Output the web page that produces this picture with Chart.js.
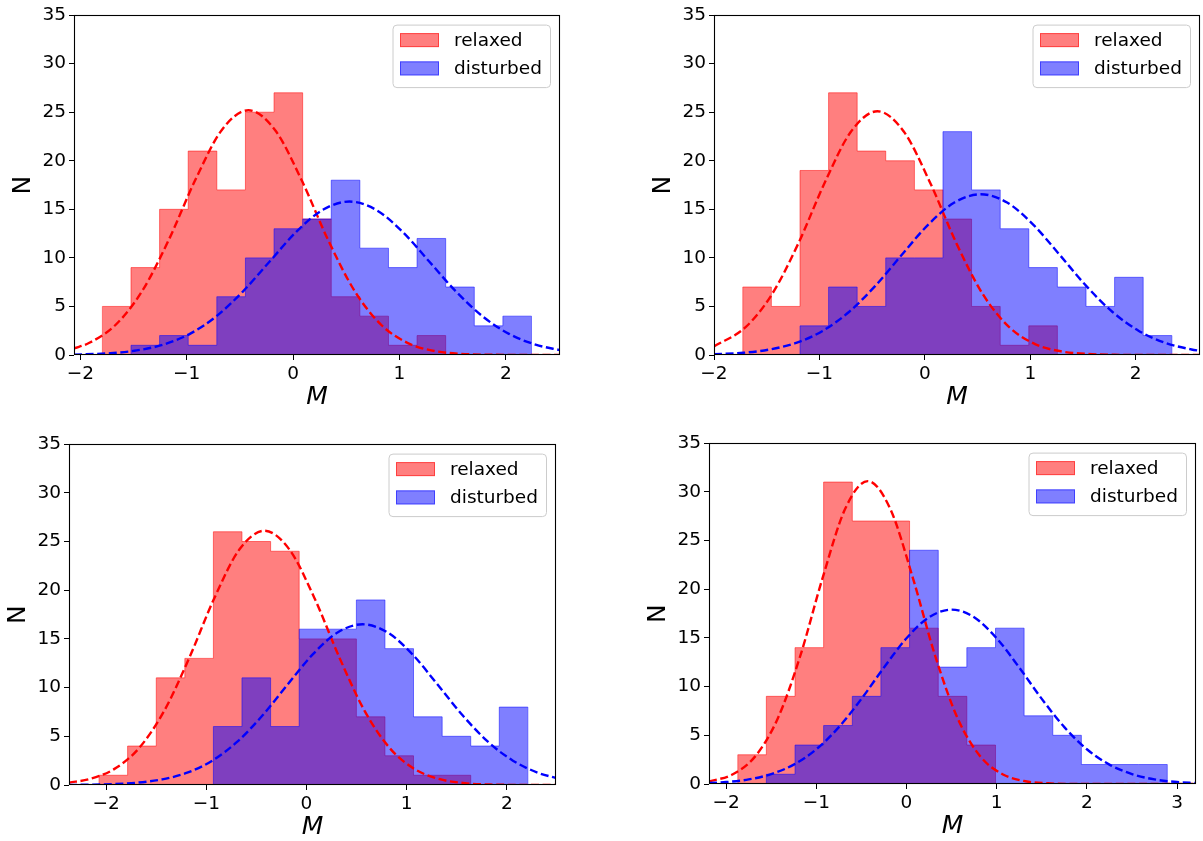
<!DOCTYPE html>
<html>
<head>
<meta charset="utf-8">
<script src="https://cdn.jsdelivr.net/npm/chart.js@4.4.1/dist/chart.umd.min.js"></script>
<style>
  body { margin: 0; background: #fff; width: 1203px; height: 841px; position: relative; overflow: hidden; }
  canvas { position: absolute; }
</style>
</head>
<body>
<canvas id="c1"></canvas>
<canvas id="c2"></canvas>
<canvas id="c3"></canvas>
<canvas id="c4"></canvas>
<script>
// legend names and shared axis ticks
const seriesNames = ['relaxed', 'disturbed'];
const yTicks = [0, 5, 10, 15, 20, 25, 30, 35];

// top-left panel
const p1XRange = [-2.06, 2.51];
const p1XTicks = [-2, -1, 0, 1, 2];
const p1Edges = [-1.793, -1.524, -1.255, -0.986, -0.717, -0.448, -0.179, 0.090, 0.359, 0.628, 0.897, 1.166, 1.435, 1.704, 1.973, 2.242];
const p1Relaxed = [5, 9, 15, 21, 17, 25, 27, 14, 6, 4, 1, 2, 0, 0, 0];
const p1Disturbed = [0, 1, 2, 1, 6, 10, 13, 14, 18, 11, 9, 12, 7, 3, 4];
const p1RelaxedFitX = [-2.06, -1.92, -1.67, -1.42, -1.17, -0.92, -0.67, -0.42, -0.17, 0.08, 0.33, 0.58, 0.83, 1.08, 1.33, 1.58, 1.83, 2.08, 2.51];
const p1RelaxedFitY = [0.68, 1.23, 3.09, 6.57, 11.83, 18.01, 23.17, 25.2, 23.17, 18.01, 11.83, 6.57, 3.09, 1.23, 0.41, 0.12, 0.03, 0.01, 0];
const p1DisturbedFitX = [-2.06, -1.72, -1.47, -1.22, -0.97, -0.72, -0.47, -0.22, 0.03, 0.28, 0.53, 0.78, 1.03, 1.28, 1.53, 1.78, 2.03, 2.28, 2.51];
const p1DisturbedFitY = [0.04, 0.18, 0.47, 1.07, 2.18, 4.00, 6.56, 9.63, 12.68, 14.95, 15.8, 14.95, 12.68, 9.63, 6.56, 4.00, 2.18, 1.07, 0.50];

// top-right panel
const p2XRange = [-2.0, 2.61];
const p2XTicks = [-2, -1, 0, 1, 2];
const p2Edges = [-1.727, -1.456, -1.184, -0.913, -0.642, -0.371, -0.099, 0.172, 0.443, 0.715, 0.986, 1.257, 1.529, 1.800, 2.071, 2.343];
const p2Relaxed = [7, 5, 19, 27, 21, 20, 17, 14, 5, 1, 3, 0, 0, 0, 0];
const p2Disturbed = [0, 0, 3, 7, 5, 10, 10, 23, 17, 13, 9, 7, 5, 8, 2];
const p2RelaxedFitX = [-2.0, -1.70, -1.45, -1.20, -0.95, -0.70, -0.45, -0.20, 0.05, 0.30, 0.55, 0.80, 1.05, 1.30, 1.55, 1.80, 2.05, 2.61];
const p2RelaxedFitY = [0.89, 2.87, 6.26, 11.49, 17.74, 23.01, 25.1, 23.01, 17.74, 11.49, 6.26, 2.87, 1.10, 0.36, 0.10, 0.02, 0, 0];
const p2DisturbedFitX = [-2.0, -1.72, -1.47, -1.22, -0.97, -0.72, -0.47, -0.22, 0.03, 0.28, 0.53, 0.78, 1.03, 1.28, 1.53, 1.78, 2.03, 2.28, 2.53, 2.61];
const p2DisturbedFitY = [0.07, 0.23, 0.57, 1.25, 2.48, 4.43, 7.12, 10.30, 13.40, 15.70, 16.55, 15.70, 13.40, 10.30, 7.12, 4.43, 2.48, 1.25, 0.57, 0.43];

// bottom-left panel
const p3XRange = [-2.37, 2.49];
const p3XTicks = [-2, -1, 0, 1, 2];
const p3Edges = [-2.070, -1.785, -1.499, -1.214, -0.929, -0.644, -0.358, -0.073, 0.212, 0.498, 0.783, 1.068, 1.354, 1.639, 1.924, 2.209];
const p3Relaxed = [1, 4, 11, 13, 26, 25, 24, 15, 15, 7, 3, 1, 1, 0, 0];
const p3Disturbed = [0, 0, 0, 0, 6, 11, 6, 16, 16, 19, 14, 7, 5, 4, 8];
const p3RelaxedFitX = [-2.37, -2.17, -1.92, -1.67, -1.42, -1.17, -0.92, -0.67, -0.42, -0.17, 0.08, 0.33, 0.58, 0.83, 1.08, 1.33, 1.58, 1.83, 2.08, 2.49];
const p3RelaxedFitY = [0.24, 0.60, 1.63, 3.80, 7.61, 13.05, 19.18, 24.17, 26.1, 24.17, 19.18, 13.05, 7.61, 3.80, 1.63, 0.60, 0.19, 0.05, 0.01, 0];
const p3DisturbedFitX = [-2.37, -2.19, -1.94, -1.69, -1.44, -1.19, -0.94, -0.69, -0.44, -0.19, 0.06, 0.31, 0.56, 0.81, 1.06, 1.31, 1.56, 1.81, 2.06, 2.31, 2.49];
const p3DisturbedFitY = [0.01, 0.03, 0.09, 0.24, 0.58, 1.26, 2.50, 4.45, 7.13, 10.29, 13.38, 15.66, 16.5, 15.66, 13.38, 10.29, 7.13, 4.45, 2.50, 1.26, 0.72];

// bottom-right panel
const p4XRange = [-2.19, 3.21];
const p4XTicks = [-2, -1, 0, 1, 2, 3];
const p4Edges = [-1.871, -1.554, -1.236, -0.919, -0.601, -0.284, 0.034, 0.352, 0.669, 0.987, 1.304, 1.622, 1.939, 2.257, 2.574, 2.892];
const p4Relaxed = [3, 9, 14, 31, 27, 27, 16, 9, 4, 0, 0, 0, 0, 0, 0];
const p4Disturbed = [0, 1, 4, 6, 9, 14, 24, 12, 14, 16, 7, 5, 2, 2, 2];
const p4RelaxedFitX = [-2.19, -1.93, -1.68, -1.43, -1.18, -0.93, -0.68, -0.43, -0.18, 0.07, 0.32, 0.57, 0.82, 1.07, 1.32, 1.57, 1.82, 2.07, 3.21];
const p4RelaxedFitY = [0.26, 0.98, 2.81, 6.68, 13.09, 21.17, 28.25, 31.1, 28.25, 21.17, 13.09, 6.68, 2.81, 0.98, 0.28, 0.07, 0.01, 0, 0];
const p4DisturbedFitX = [-2.19, -2.0, -1.75, -1.5, -1.25, -1.0, -0.75, -0.5, -0.25, 0, 0.25, 0.5, 0.75, 1.0, 1.25, 1.5, 1.75, 2.0, 2.25, 2.5, 2.75, 3.0, 3.21];
const p4DisturbedFitY = [0.10, 0.20, 0.47, 1.02, 1.99, 3.57, 5.84, 8.74, 11.96, 14.96, 17.12, 17.9, 17.12, 14.96, 11.96, 8.74, 5.84, 3.57, 1.99, 1.02, 0.47, 0.20, 0.09];

const RED_FILL = 'rgba(255,0,0,0.5)';
const BLUE_FILL = 'rgba(0,0,255,0.5)';
const FONT = 'DejaVu Sans';

// histogram outline: start on the baseline, one point per bin, back down at the last edge
function stepPoints(edges, counts) {
  const pts = [{x: edges[0], y: 0}];
  counts.forEach((c, i) => pts.push({x: edges[i], y: c}));
  pts.push({x: edges[edges.length - 1], y: 0});
  return pts;
}

function zip(xs, ys) {
  return xs.map((x, i) => ({x: x, y: ys[i]}));
}

// top and right spines + matplotlib-like legend box inside the axes
const framePlugin = {
  id: 'frame',
  afterDraw(chart) {
    const ctx = chart.ctx;
    const a = chart.chartArea;
    ctx.save();
    ctx.strokeStyle = '#000';
    ctx.lineWidth = 1.1;
    ctx.strokeRect(Math.round(a.left) + 0.5, Math.round(a.top) + 0.5,
                   Math.round(a.right - a.left) - 1, Math.round(a.bottom - a.top) - 1);

    // legend
    const w = 157.5, h = 62.5;
    const bx = a.right - 9.5 - w, by = a.top + 10;
    ctx.beginPath();
    ctx.roundRect(bx, by, w, h, 4);
    ctx.fillStyle = 'rgba(255,255,255,0.8)';
    ctx.fill();
    ctx.strokeStyle = '#cccccc';
    ctx.lineWidth = 1;
    ctx.stroke();
    const colors = [RED_FILL, BLUE_FILL];
    ctx.font = '18.5px "' + FONT + '"';
    ctx.textBaseline = 'middle';
    ctx.textAlign = 'left';
    seriesNames.forEach((name, i) => {
      const cy = by + 15 + i * 28.3;
      ctx.fillStyle = colors[i];
      ctx.strokeStyle = colors[i];
      ctx.fillRect(bx + 7, cy - 7, 39, 14);
      ctx.strokeRect(bx + 7.5, cy - 6.5, 38, 13);
      ctx.fillStyle = '#000';
      ctx.fillText(name, bx + 61, cy + 1);
    });
    ctx.restore();
  }
};

function makePanel(id, plot, xRange, xTicks, edges, relaxed, disturbed, rFitX, rFitY, dFitX, dFitY) {
  const [px, py, pw, ph] = plot;
  const canvas = document.getElementById(id);
  const W = pw + 73, H = ph + 72;
  canvas.width = W; canvas.height = H;
  canvas.style.left = (px - 70) + 'px';
  canvas.style.top = (py - 12) + 'px';
  canvas.style.width = W + 'px';
  canvas.style.height = H + 'px';

  new Chart(canvas.getContext('2d'), {
    type: 'line',
    data: {
      datasets: [
        {
          label: seriesNames[0],
          data: stepPoints(edges, relaxed),
          stepped: true,
          fill: 'origin',
          backgroundColor: RED_FILL,
          borderColor: RED_FILL,
          borderWidth: 1,
          pointRadius: 0,
          order: 4
        },
        {
          label: seriesNames[1],
          data: stepPoints(edges, disturbed),
          stepped: true,
          fill: 'origin',
          backgroundColor: BLUE_FILL,
          borderColor: BLUE_FILL,
          borderWidth: 1,
          pointRadius: 0,
          order: 3
        },
        {
          label: seriesNames[0] + ' fit',
          data: zip(rFitX, rFitY),
          borderColor: '#ff0000',
          borderWidth: 2.4,
          borderDash: [8, 3.6],
          cubicInterpolationMode: 'monotone',
          fill: false,
          pointRadius: 0,
          order: 2
        },
        {
          label: seriesNames[1] + ' fit',
          data: zip(dFitX, dFitY),
          borderColor: '#0000ff',
          borderWidth: 2.4,
          borderDash: [8, 3.6],
          cubicInterpolationMode: 'monotone',
          fill: false,
          pointRadius: 0,
          order: 1
        }
      ]
    },
    options: {
      responsive: false,
      animation: false,
      devicePixelRatio: 1,
      layout: { padding: { top: 12, right: 3, left: 0, bottom: 0 } },
      plugins: {
        legend: { display: false },
        tooltip: { enabled: false }
      },
      scales: {
        x: {
          type: 'linear',
          min: xRange[0],
          max: xRange[1],
          afterFit: s => { s.height = 60; },
          afterBuildTicks: s => { s.ticks = xTicks.map(v => ({value: v})); },
          border: { display: false },
          grid: { display: true, drawOnChartArea: false, drawTicks: true, tickLength: 5, color: '#000' },
          ticks: {
            color: '#000',
            padding: 3,
            maxRotation: 0,
            font: { family: FONT, size: 18.5 },
            callback: v => String(v).replace('-', '\u2212')
          },
          title: {
            display: true,
            text: 'M',
            color: '#000',
            padding: { top: 0, bottom: 5 },
            font: { family: FONT, size: 25, style: 'italic', lineHeight: 1 }
          }
        },
        y: {
          min: 0,
          max: 35,
          afterFit: s => { s.width = 70; },
          afterBuildTicks: s => { s.ticks = yTicks.map(v => ({value: v})); },
          border: { display: false },
          grid: { display: true, drawOnChartArea: false, drawTicks: true, tickLength: 5, color: '#000' },
          ticks: {
            color: '#000',
            padding: 3,
            font: { family: FONT, size: 18.5 }
          },
          title: {
            display: true,
            text: 'N',
            color: '#000',
            padding: { top: 7, bottom: 0 },
            font: { family: FONT, size: 25, lineHeight: 1 }
          }
        }
      }
    },
    plugins: [framePlugin]
  });
}

makePanel('c1', [74, 13, 486, 342], p1XRange, p1XTicks, p1Edges, p1Relaxed, p1Disturbed,
          p1RelaxedFitX, p1RelaxedFitY, p1DisturbedFitX, p1DisturbedFitY);
makePanel('c2', [714, 13, 486, 342], p2XRange, p2XTicks, p2Edges, p2Relaxed, p2Disturbed,
          p2RelaxedFitX, p2RelaxedFitY, p2DisturbedFitX, p2DisturbedFitY);
makePanel('c3', [69, 442, 487, 343], p3XRange, p3XTicks, p3Edges, p3Relaxed, p3Disturbed,
          p3RelaxedFitX, p3RelaxedFitY, p3DisturbedFitX, p3DisturbedFitY);
makePanel('c4', [709, 441, 487, 343], p4XRange, p4XTicks, p4Edges, p4Relaxed, p4Disturbed,
          p4RelaxedFitX, p4RelaxedFitY, p4DisturbedFitX, p4DisturbedFitY);
</script>
</body>
</html>
